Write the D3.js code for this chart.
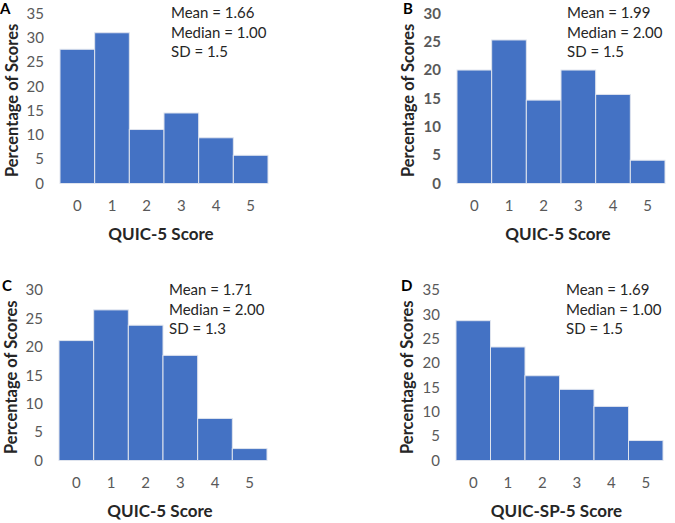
<!DOCTYPE html>
<html>
<head>
<script src="https://d3js.org/d3.v7.min.js"></script>
<style>
  body { margin: 0; background: #fff; }
  text { font-family: Lato, "Open Sans", sans-serif; }
</style>
</head>
<body>
<script>
// data
var scores = ["0", "1", "2", "3", "4", "5"];
var pctA = [27.6, 31.0, 11.1, 14.5, 9.4, 5.8];
var pctB = [20.0, 25.3, 14.7, 20.0, 15.7, 4.1];
var pctC = [21.1, 26.5, 23.8, 18.5, 7.4, 2.1];
var pctD = [28.7, 23.3, 17.4, 14.6, 11.1, 4.1];
var statsA = ["Mean = 1.66", "Median = 1.00", "SD = 1.5"];
var statsB = ["Mean = 1.99", "Median = 2.00", "SD = 1.5"];
var statsC = ["Mean = 1.71", "Median = 2.00", "SD = 1.3"];
var statsD = ["Mean = 1.69", "Median = 1.00", "SD = 1.5"];
var yTicksA = [0, 5, 10, 15, 20, 25, 30, 35];
var yTicksB = [0, 5, 10, 15, 20, 25, 30];

var width = 675, height = 523;

var svg = d3.select("body").append("svg")
    .attr("width", width)
    .attr("height", height);

var panels = [
  {letter: "A", values: pctA, stats: statsA, ticks: yTicksA, ymax: 35, xlabel: "QUIC-5 Score",
   left: 60, right: 268, bottom: 183.5, top: 13.3, letterX: 0, letterY: 14, titleX: 13, statX: 171, statY: 18, boldTicks: false},
  {letter: "B", values: pctB, stats: statsB, ticks: yTicksB, ymax: 30, xlabel: "QUIC-5 Score",
   left: 457, right: 665, bottom: 183.5, top: 13.3, letterX: 403, letterY: 14, titleX: 409, statX: 567, statY: 18, boldTicks: true},
  {letter: "C", values: pctC, stats: statsC, ticks: yTicksB, ymax: 30, xlabel: "QUIC-5 Score",
   left: 59, right: 267, bottom: 460.5, top: 290, letterX: 2, letterY: 291, titleX: 12, statX: 169, statY: 295, boldTicks: false},
  {letter: "D", values: pctD, stats: statsD, ticks: yTicksA, ymax: 35, xlabel: "QUIC-SP-5 Score",
   left: 456, right: 663, bottom: 460.5, top: 290, letterX: 401, letterY: 291, titleX: 408, statX: 566, statY: 295, boldTicks: false}
];

panels.forEach(function(p) {
  var g = svg.append("g");

  var x = d3.scaleBand()
      .domain(scores)
      .range([p.left, p.right])
      .padding(0);

  var y = d3.scaleLinear()
      .domain([0, p.ymax])
      .range([p.bottom, p.top]);

  g.selectAll("rect")
    .data(p.values)
    .enter().append("rect")
      .attr("x", function(d, i) { return x(scores[i]); })
      .attr("y", function(d) { return y(d); })
      .attr("width", x.bandwidth())
      .attr("height", function(d) { return y(0) - y(d); })
      .attr("fill", "#4472c4")
      .attr("stroke", "#dfe4ee")
      .attr("stroke-width", 1);

  // y tick labels
  var yAxis = d3.axisLeft(y).tickValues(p.ticks).tickSize(0).tickPadding(0);
  var ya = g.append("g")
      .attr("transform", "translate(" + (p.left - 16) + ",0)")
      .call(yAxis);
  ya.select(".domain").remove();
  ya.selectAll("text")
      .attr("fill", "#595959")
      .style("font-size", "15px")
      .style("font-weight", p.boldTicks ? "bold" : "normal");

  // x tick labels
  var xAxis = d3.axisBottom(x).tickSize(0).tickPadding(0);
  var xa = g.append("g")
      .attr("transform", "translate(0," + (p.bottom + 17) + ")")
      .call(xAxis);
  xa.select(".domain").remove();
  xa.selectAll("text")
      .attr("fill", "#595959")
      .style("font-size", "15px");

  // axis titles
  g.append("text")
      .attr("x", (p.left + p.right) / 2 - 3)
      .attr("y", p.bottom + 56)
      .attr("text-anchor", "middle")
      .style("font-size", "17px")
      .style("font-weight", "bold")
      .attr("fill", "#262626")
      .text(p.xlabel);

  g.append("text")
      .attr("transform", "translate(" + (p.titleX + 5) + "," + ((p.top + p.bottom) / 2 + 2) + ") rotate(-90)")
      .attr("text-anchor", "middle")
      .style("font-size", "16.5px")
      .style("font-weight", "bold")
      .attr("fill", "#262626")
      .text("Percentage of Scores");

  // panel letter
  g.append("text")
      .attr("x", p.letterX)
      .attr("y", p.letterY)
      .style("font-size", "15px")
      .style("font-weight", "bold")
      .attr("fill", "#000")
      .text(p.letter);

  // summary stats
  g.selectAll(".stat")
    .data(p.stats)
    .enter().append("text")
      .attr("class", "stat")
      .attr("x", p.statX)
      .attr("y", function(d, i) { return p.statY + i * 19.5; })
      .style("font-size", "15px")
      .attr("fill", "#262626")
      .text(function(d) { return d; });
});
</script>
</body>
</html>
